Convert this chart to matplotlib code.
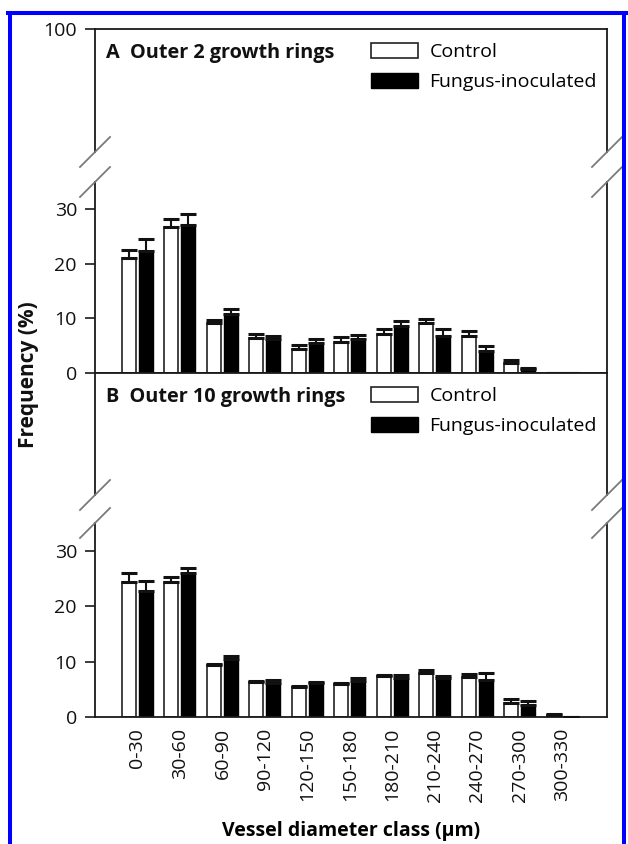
import numpy as np
import matplotlib
matplotlib.use("Agg")
import matplotlib.pyplot as plt
from matplotlib.lines import Line2D

plt.rcParams['font.family'] = ['Open Sans', 'DejaVu Sans']

# ---- data -------------------------------------------------------------
classes = ["0-30", "30-60", "60-90", "90-120", "120-150", "150-180",
           "180-210", "210-240", "240-270", "270-300", "300-330"]

# Panel A: outer 2 growth rings
a_control = [21.0, 26.8, 9.1, 6.45, 4.4, 5.6, 7.1, 9.1, 6.75, 1.75, 0.0]
a_control_err = [1.6, 1.4, 0.6, 0.75, 0.8, 1.0, 0.9, 0.8, 0.95, 0.65, 0.0]
a_fungus = [22.4, 27.2, 10.8, 6.15, 5.5, 6.2, 8.6, 6.75, 4.1, 0.7, 0.0]
a_fungus_err = [2.1, 2.0, 0.9, 0.65, 0.65, 0.8, 1.0, 1.25, 0.8, 0.15, 0.0]

# Panel B: outer 10 growth rings
b_control = [24.4, 24.4, 9.3, 6.35, 5.5, 5.9, 7.4, 7.9, 7.3, 2.6, 0.4]
b_control_err = [1.6, 0.8, 0.3, 0.15, 0.1, 0.15, 0.2, 0.5, 0.5, 0.7, 0.1]
b_fungus = [22.8, 25.9, 10.4, 6.2, 6.2, 6.5, 7.1, 7.0, 6.7, 2.15, 0.0]
b_fungus_err = [1.7, 1.0, 0.6, 0.4, 0.05, 0.5, 0.5, 0.45, 1.2, 0.75, 0.0]

series_labels = ["Control", "Fungus-inoculated"]
panel_titles = ["A  Outer 2 growth rings", "B  Outer 10 growth rings"]

# ---- figure -----------------------------------------------------------
W, H = 628, 844
fig = plt.figure(figsize=(W / 100, H / 100), dpi=100)
fig.patch.set_facecolor("white")


def fx(px):
    return px / W


def fy(py):
    return 1 - py / H


X0, X1 = 95, 607
SPINE = "#1a1a1a"
TICK_FS = 14


def add_ax(top, bottom):
    return fig.add_axes([fx(X0), fy(bottom), fx(X1) - fx(X0), fy(top) - fy(bottom)])


def style(ax, show_top, show_bottom):
    for side in ("left", "right", "top", "bottom"):
        ax.spines[side].set_color(SPINE)
        ax.spines[side].set_linewidth(1.3)
    ax.spines["top"].set_visible(show_top)
    ax.spines["bottom"].set_visible(show_bottom)
    ax.tick_params(axis="y", direction="out", length=7, width=1.2,
                   colors=SPINE, labelsize=TICK_FS, pad=6, labelcolor="#111")
    ax.set_xlim(-1.0, 11.05)


x = np.arange(len(classes))
bw = 0.33
off = 0.2


def draw_bars(ax, ctrl, ctrl_err, fung, fung_err):
    hc = ax.bar(x - off, ctrl, bw, color="white", edgecolor="#222", linewidth=1.2, zorder=2)
    hf = ax.bar(x + off, fung, bw, color="black", edgecolor="black", linewidth=1.0, zorder=2)
    ax.errorbar(x - off, ctrl, yerr=[np.zeros(len(ctrl)), ctrl_err], fmt="none",
                ecolor="#111", elinewidth=1.5, capsize=5.6, capthick=2.2, zorder=3)
    ax.errorbar(x + off, fung, yerr=[np.zeros(len(fung)), fung_err], fmt="none",
                ecolor="#111", elinewidth=1.5, capsize=5.6, capthick=2.2, zorder=3)
    return hc, hf


panels = [
    dict(up=(29, 152), low=(182, 373), data=(a_control, a_control_err, a_fungus, a_fungus_err),
         top_tick=True, title=panel_titles[0], title_y=53, legend_y=43),
    dict(up=(373, 495), low=(523, 717), data=(b_control, b_control_err, b_fungus, b_fungus_err),
         top_tick=False, title=panel_titles[1], title_y=397, legend_y=387),
]

for i, p in enumerate(panels):
    ax_up = add_ax(*p["up"])
    ax_lo = add_ax(*p["low"])
    style(ax_up, show_top=True, show_bottom=False)
    style(ax_lo, show_top=False, show_bottom=True)

    ax_up.set_ylim(60, 100)
    ax_up.set_yticks([100] if p["top_tick"] else [])
    ax_up.set_xticks([])

    ax_lo.set_ylim(0, 35)
    ax_lo.set_yticks([0, 10, 20, 30])
    hc, hf = draw_bars(ax_lo, *p["data"])

    if i == 1:
        ax_lo.set_xticks(x)
        ax_lo.set_xticklabels(classes, rotation=90, fontsize=TICK_FS, color="#111")
        ax_lo.tick_params(axis="x", length=0, pad=8)
        ax_lo.set_xlabel("Vessel diameter class (\u03bcm)", fontsize=14, fontweight="bold",
                         labelpad=14)
    else:
        ax_lo.set_xticks([])

    # panel title
    fig.text(fx(106), fy(p["title_y"]), p["title"], fontsize=14.3, fontweight="bold",
             ha="left", va="center", color="#111")

    # legend
    ax_up.legend([hc, hf], series_labels, loc="upper left",
                 bbox_to_anchor=(fx(371), fy(p["legend_y"])), bbox_transform=fig.transFigure,
                 frameon=False, fontsize=14, handlelength=2.4, handleheight=0.8,
                 handletextpad=0.6, labelspacing=0.62, borderpad=0, borderaxespad=0)

    # axis-break marks on both spines
    for sx in (X0, X1):
        for sy in (p["up"][1], p["low"][0]):
            fig.add_artist(Line2D([fx(sx - 15), fx(sx + 15)], [fy(sy + 15), fy(sy - 15)],
                                  color="#7a7a7a", lw=1.3))

fig.text(fx(29), fy(375), "Frequency (%)", rotation=90, fontsize=15, fontweight="bold",
         ha="center", va="center", color="#111")

# blue frame around the figure
blue = "#0000ff"
fig.add_artist(Line2D([fx(10), fx(10)], [fy(13), 0], color=blue, lw=2.9))
fig.add_artist(Line2D([fx(624), fx(624)], [fy(13), 0], color=blue, lw=2.9))
fig.add_artist(Line2D([fx(8), fx(626)], [fy(13), fy(13)], color=blue, lw=2.9))

fig.savefig("out.png", dpi=100)
